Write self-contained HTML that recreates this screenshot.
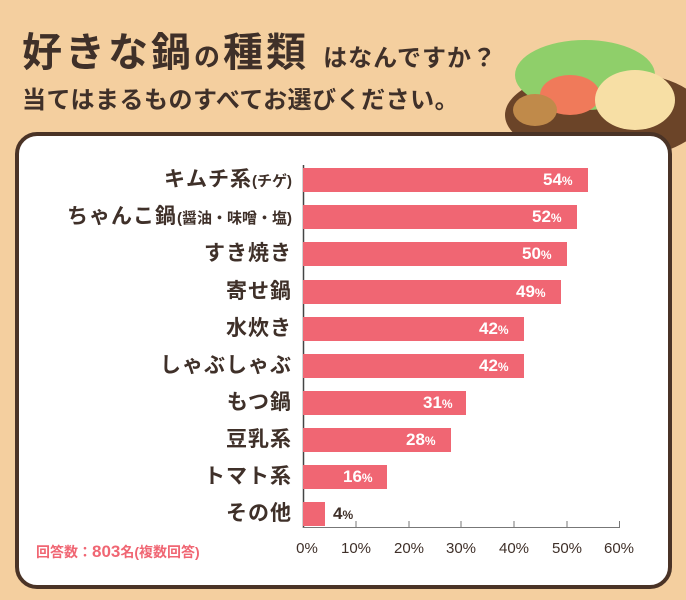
<!DOCTYPE html>
<html><head><meta charset="utf-8"><style>
body{margin:0;width:686px;height:600px;background:#f4cf9f;overflow:hidden;position:relative;font-family:"Liberation Sans","Noto Sans CJK JP",sans-serif;color:#3f3029}
.t1{position:absolute;left:22px;top:20px;font-size:40px;font-weight:bold;letter-spacing:3px;white-space:nowrap}
.t1 small{font-size:24px;font-weight:bold;letter-spacing:1px}
.t2{position:absolute;left:22px;top:80px;font-size:24px;font-weight:bold;white-space:nowrap;letter-spacing:0.5px}
.card{position:absolute;left:15px;top:132px;width:649px;height:449px;background:#fff;border:4px solid #4a3326;border-radius:22px}
.lab{position:absolute;right:394px;font-size:21px;font-weight:bold;white-space:nowrap;text-align:right;line-height:24px;letter-spacing:1px}
.lab small{font-size:15px;letter-spacing:0}
.bar{position:absolute;left:303px;height:24px;background:#f06673}
.pct{position:absolute;font-size:17px;font-weight:bold;line-height:24px;color:#fff}
.pct small{font-size:12px}
.tick{position:absolute;top:540px;font-size:15px;color:#3f3029;width:40px;text-align:center;margin-left:-20px}
</style></head><body>
<svg style="position:absolute;left:495px;top:20px" width="191" height="130"><ellipse cx="110" cy="95" rx="100" ry="45" fill="#6b4428"/><ellipse cx="90" cy="55" rx="70" ry="35" fill="#8fcf6a"/><ellipse cx="75" cy="75" rx="30" ry="20" fill="#f07a5a"/><ellipse cx="140" cy="80" rx="40" ry="30" fill="#f7dfa5"/><ellipse cx="40" cy="90" rx="22" ry="16" fill="#c08a4a"/></svg>
<div class="t1">好きな鍋<span style="font-size:26px">の</span>種類 <small>はなんですか？</small></div>
<div class="t2">当てはまるものすべてお選びください。</div>
<div class="card"></div>
<svg style="position:absolute;left:0;top:0" width="686" height="600"><line x1="303.5" y1="165" x2="303.5" y2="528" stroke="#444" stroke-width="1.5"/><line x1="303" y1="527.5" x2="620" y2="527.5" stroke="#777"/>
<g stroke="#777"><line x1="356" y1="521" x2="356" y2="528"/><line x1="409" y1="521" x2="409" y2="528"/><line x1="461" y1="521" x2="461" y2="528"/><line x1="514" y1="521" x2="514" y2="528"/><line x1="567" y1="521" x2="567" y2="528"/><line x1="619.5" y1="521" x2="619.5" y2="528"/></g></svg>
<div class="lab" style="top:168px">キムチ系<small>(チゲ)</small></div>
<div class="lab" style="top:205px">ちゃんこ鍋<small>(醤油・味噌・塩)</small></div>
<div class="lab" style="top:242px">すき焼き</div>
<div class="lab" style="top:280px">寄せ鍋</div>
<div class="lab" style="top:317px">水炊き</div>
<div class="lab" style="top:354px">しゃぶしゃぶ</div>
<div class="lab" style="top:391px">もつ鍋</div>
<div class="lab" style="top:428px">豆乳系</div>
<div class="lab" style="top:465px">トマト系</div>
<div class="lab" style="top:502px">その他</div>
<div class="bar" style="top:168px;width:285px"></div><div class="pct" style="top:168px;left:543px">54<small>%</small></div>
<div class="bar" style="top:205px;width:274px"></div><div class="pct" style="top:205px;left:532px">52<small>%</small></div>
<div class="bar" style="top:242px;width:264px"></div><div class="pct" style="top:242px;left:522px">50<small>%</small></div>
<div class="bar" style="top:280px;width:258px"></div><div class="pct" style="top:280px;left:516px">49<small>%</small></div>
<div class="bar" style="top:317px;width:221px"></div><div class="pct" style="top:317px;left:479px">42<small>%</small></div>
<div class="bar" style="top:354px;width:221px"></div><div class="pct" style="top:354px;left:479px">42<small>%</small></div>
<div class="bar" style="top:391px;width:163px"></div><div class="pct" style="top:391px;left:423px">31<small>%</small></div>
<div class="bar" style="top:428px;width:148px"></div><div class="pct" style="top:428px;left:406px">28<small>%</small></div>
<div class="bar" style="top:465px;width:84px"></div><div class="pct" style="top:465px;left:343px">16<small>%</small></div>
<div class="bar" style="top:502px;width:22px"></div><div class="pct" style="top:502px;left:333px;color:#3f3029">4<small>%</small></div>
<div class="tick" style="left:307px">0%</div><div class="tick" style="left:356px">10%</div><div class="tick" style="left:409px">20%</div><div class="tick" style="left:461px">30%</div><div class="tick" style="left:514px">40%</div><div class="tick" style="left:567px">50%</div><div class="tick" style="left:619px">60%</div>
<div style="position:absolute;left:36px;top:542px;color:#f06673;font-size:14px;font-weight:bold;white-space:nowrap">回答数：<span style="font-size:17px">803</span>名(複数回答)</div>
</body></html>
